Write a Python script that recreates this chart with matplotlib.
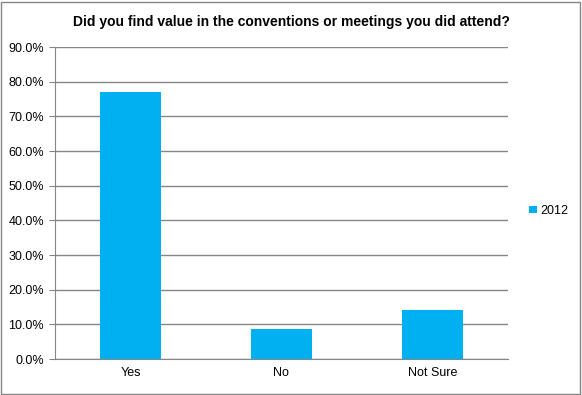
import matplotlib
matplotlib.use('Agg')
import matplotlib.pyplot as plt
from matplotlib.patches import Rectangle
from matplotlib.ticker import FuncFormatter

plt.rcParams['font.family'] = ['Liberation Sans', 'DejaVu Sans']

# Data
categories = ['Yes', 'No', 'Not Sure']
values_2012 = [77.0, 8.7, 14.2]
series_name = '2012'
title = 'Did you find value in the conventions or meetings you did attend?'

bar_color = '#00B0F0'
grid_color = '#868686'

fig = plt.figure(figsize=(5.82, 3.95), dpi=100)
ax = fig.add_axes([0.0945, 0.091, 0.778, 0.790])

x = range(len(categories))
ax.bar(x, values_2012, width=0.4, color=bar_color, label=series_name, zorder=3)

ax.set_xlim(-0.5, len(categories) - 0.5)
ax.set_ylim(0, 90)
ax.set_yticks(range(0, 91, 10))
ax.yaxis.set_major_formatter(FuncFormatter(lambda v, p: f'{v:.1f}%'))
ax.set_xticks(list(x))
ax.set_xticklabels(categories)

ax.grid(axis='y', color=grid_color, linewidth=1, zorder=0)
for side in ['top', 'right']:
    ax.spines[side].set_visible(False)
ax.spines['left'].set_color(grid_color)
ax.spines['bottom'].set_color(grid_color)
ax.tick_params(axis='both', labelsize=9, length=0, pad=6)
ax.tick_params(axis='y', length=4, color=grid_color, direction='out', pad=4)

fig.text(0.5, 0.945, title, ha='center', va='center', fontsize=10, fontweight='bold')

ax.legend(loc='center left', bbox_to_anchor=(0.909, 0.466), bbox_transform=fig.transFigure,
          frameon=False, borderaxespad=0, borderpad=0,
          fontsize=9, handlelength=0.6, handleheight=0.6, handletextpad=0.3)

# Chart border
fig.patches.append(Rectangle((0.002, 0.003), 0.995, 0.993, transform=fig.transFigure,
                             fill=False, edgecolor=grid_color, linewidth=1))

fig.savefig('out.png', dpi=100)
